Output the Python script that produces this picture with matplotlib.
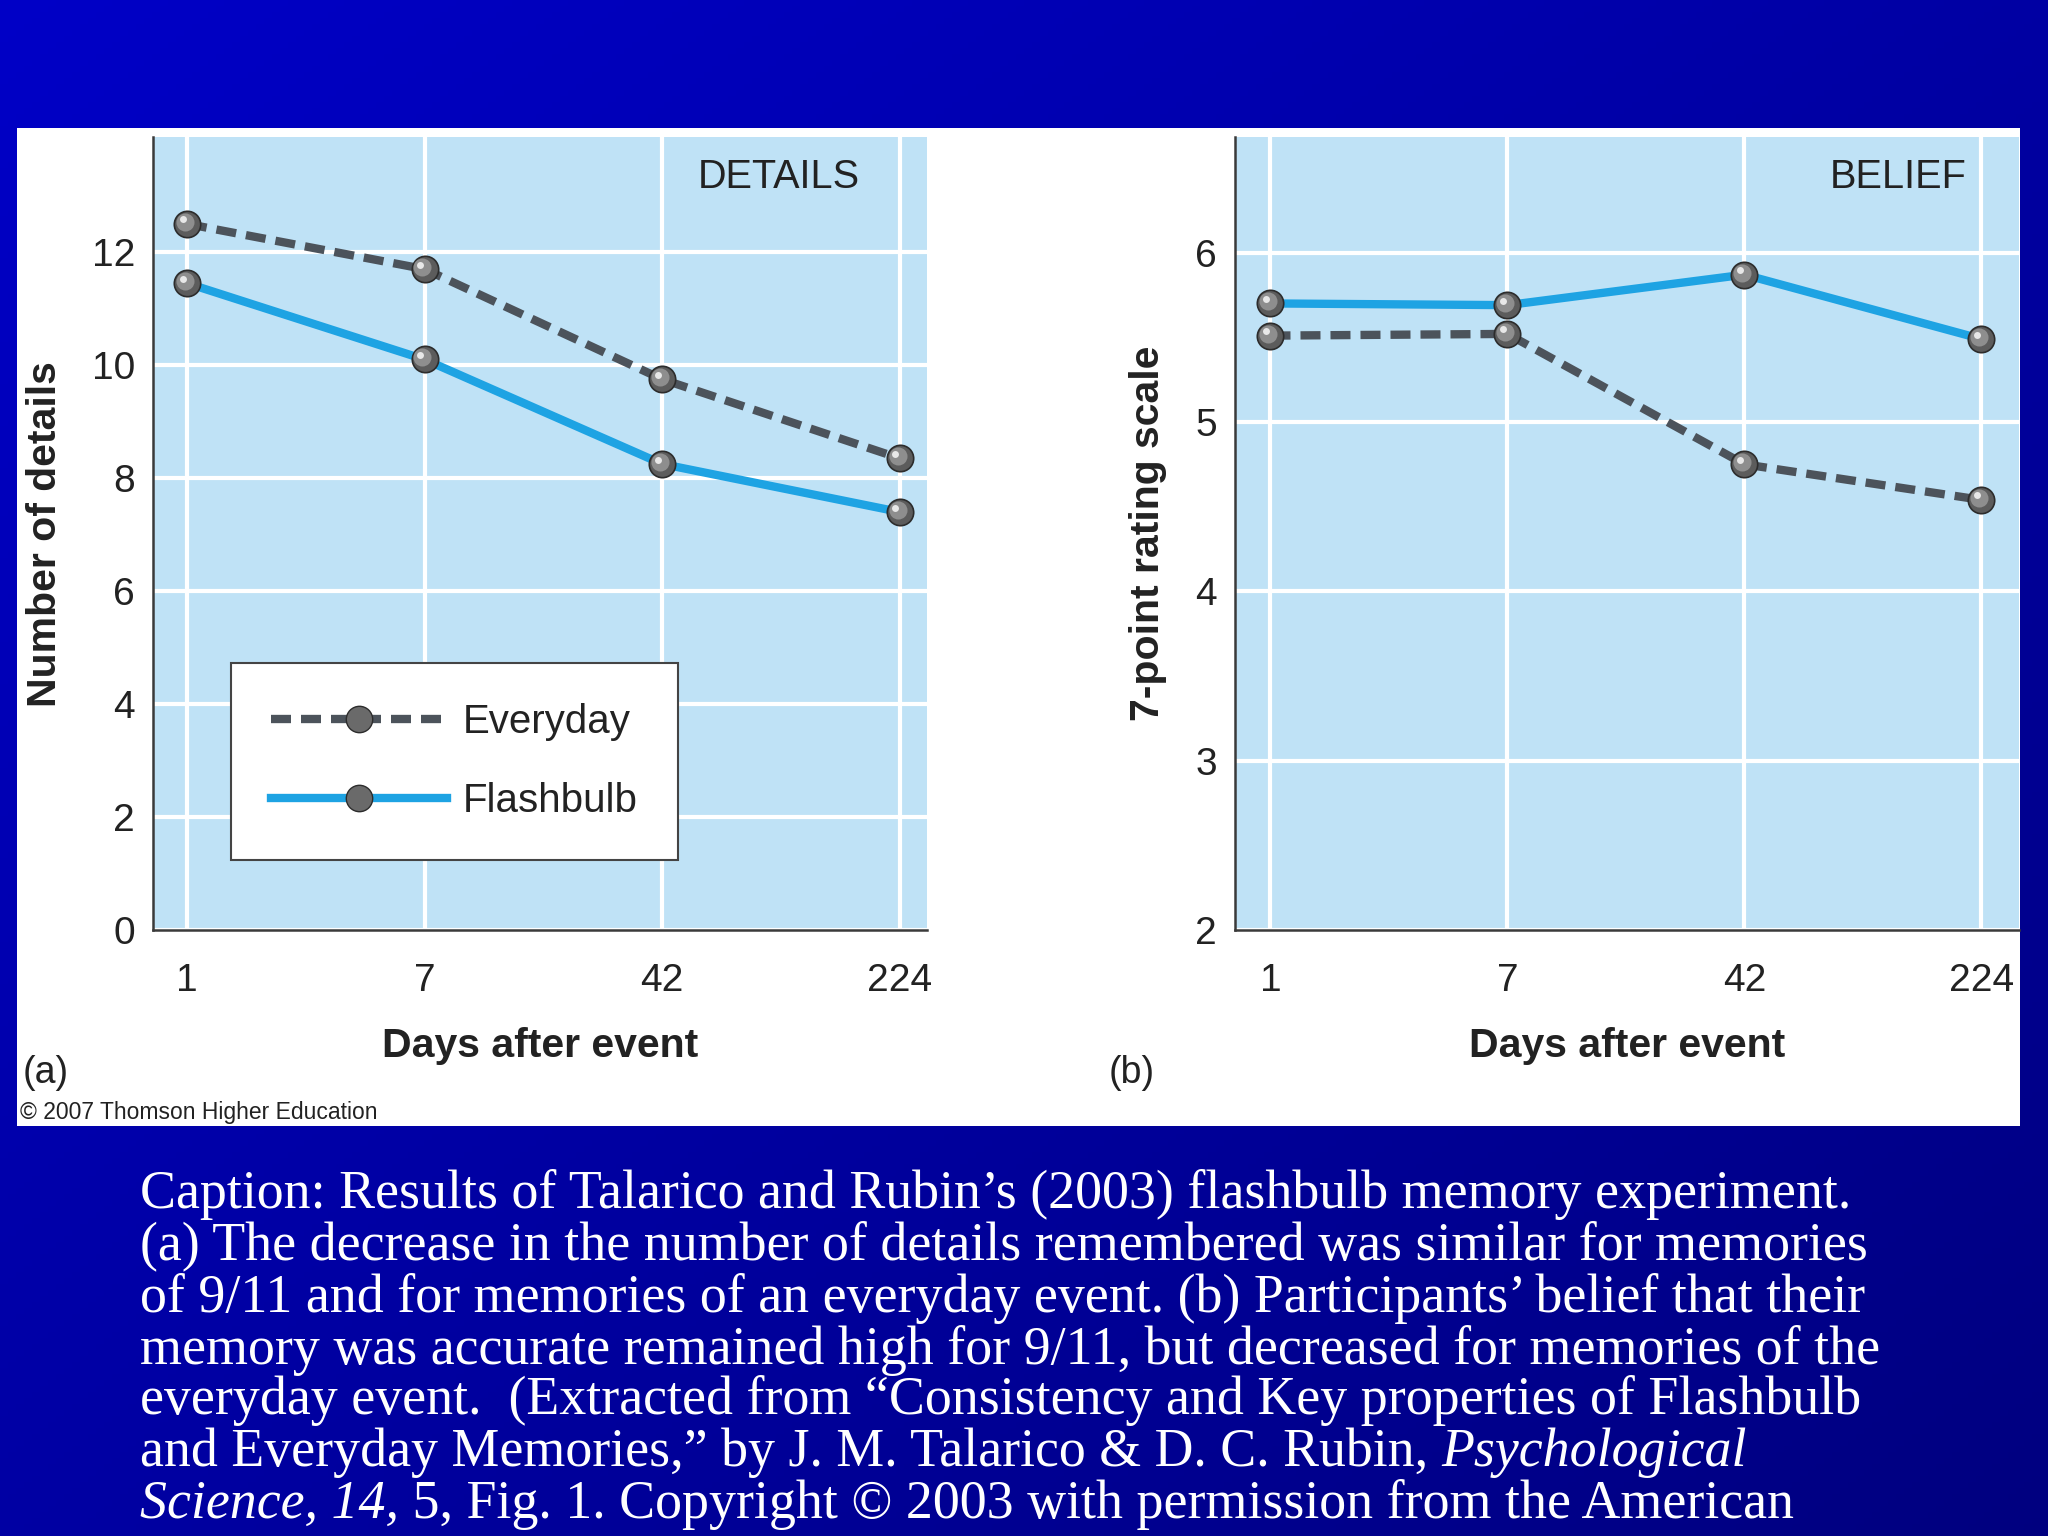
import matplotlib.pyplot as plt
import numpy as np
from matplotlib.patches import Rectangle
from matplotlib.lines import Line2D
import matplotlib.transforms as mtransforms

# data
days = ["1", "7", "42", "224"]
details_everyday = [12.5, 11.7, 9.75, 8.35]
details_flashbulb = [11.45, 10.1, 8.25, 7.4]
belief_everyday = [5.51, 5.52, 4.75, 4.54]
belief_flashbulb = [5.70, 5.69, 5.87, 5.49]
details_yticks = [0, 2, 4, 6, 8, 10, 12]
belief_yticks = [2, 3, 4, 5, 6]

caption_lines = [
    "Caption: Results of Talarico and Rubin\u2019s (2003) flashbulb memory experiment.",
    "(a) The decrease in the number of details remembered was similar for memories",
    "of 9/11 and for memories of an everyday event. (b) Participants\u2019 belief that their",
    "memory was accurate remained high for 9/11, but decreased for memories of the",
    "everyday event.  (Extracted from \u201cConsistency and Key properties of Flashbulb",
]
caption_line6 = ["and Everyday Memories,\u201d by J. M. Talarico & D. C. Rubin, ", "Psychological"]
caption_line7 = ["Science, 14,", " 5, Fig. 1. Copyright \u00a9 2003 with permission from the American"]

# colours
plot_bg = "#bfe2f6"
flash_col = "#1ea3e3"
every_col = "#4c535b"
text_col = "#222222"
lw = 6.0
dash = (2.4, 1.2)

plt.rcParams['font.family'] = ['Liberation Sans', 'DejaVu Sans']

fig = plt.figure(figsize=(20.48, 15.36), dpi=100)

# blue slide background gradient (bright top-left to navy bottom-right)
bg = fig.add_axes([0, 0, 1, 1], zorder=-10)
gx, gy = np.meshgrid(np.linspace(0, 1, 256), np.linspace(0, 1, 256))
t = 0.5 * gx + 0.5 * gy
c0 = np.array([0.0, 0.0, 0.78])
c1 = np.array([0.0, 0.0, 0.50])
img = c0[None, None, :] * (1 - t[..., None]) + c1[None, None, :] * t[..., None]
bg.imshow(img, aspect='auto', extent=[0, 1, 0, 1], origin='upper')
bg.set_axis_off()

# white figure panel
fig.patches.append(Rectangle((0.0083, 0.2669), 0.978, 0.650, transform=fig.transFigure,
                             facecolor="white", edgecolor="none", zorder=-5))


def style_axes(ax, ylim, yticks, xlim):
    ax.set_facecolor(plot_bg)
    ax.set_xlim(*xlim)
    ax.set_ylim(*ylim)
    ax.set_xticks(range(len(days)))
    ax.set_xticklabels(days)
    ax.set_yticks(yticks)
    ax.grid(True, color="white", linewidth=3)
    ax.set_axisbelow(True)
    for s in ["top", "right"]:
        ax.spines[s].set_visible(False)
    for s in ["left", "bottom"]:
        ax.spines[s].set_color("#3a3a3a")
        ax.spines[s].set_linewidth(1.8)
    ax.tick_params(length=0, labelsize=28, labelcolor=text_col)
    ax.tick_params(axis='x', pad=24)
    ax.tick_params(axis='y', pad=13)


def draw_series(ax, vals, color, ls, label):
    x = np.arange(len(vals))
    kw = dict(color=color, linewidth=lw, linestyle=ls, label=label,
              marker='o', markersize=19, markerfacecolor="#5c5c5c",
              markeredgecolor="#2c2c2c", markeredgewidth=1.2)
    if ls == '--':
        kw['dashes'] = dash
    ax.plot(x, vals, **kw, zorder=3)
    # shading layers to give a ball look
    off1 = mtransforms.ScaledTranslation(-1.5 / 72, 1.5 / 72, fig.dpi_scale_trans)
    ax.plot(x, vals, linestyle='none', marker='o', markersize=13,
            markerfacecolor="#8e8e8e", markeredgecolor="none",
            transform=ax.transData + off1, zorder=4)
    off2 = mtransforms.ScaledTranslation(-3.2 / 72, 3.2 / 72, fig.dpi_scale_trans)
    ax.plot(x, vals, linestyle='none', marker='o', markersize=5,
            markerfacecolor="#e8e8e8", markeredgecolor="none",
            transform=ax.transData + off2, zorder=5)


ax1 = fig.add_axes([0.0747, 0.3945, 0.378, 0.516])
style_axes(ax1, (0, 14.03), details_yticks, (-0.143, 3.115))
draw_series(ax1, details_everyday, every_col, '--', "Everyday")
draw_series(ax1, details_flashbulb, flash_col, '-', "Flashbulb")
ax1.set_ylabel("Number of details", fontsize=29.5, fontweight='bold', color=text_col, labelpad=20)
ax1.set_xlabel("Days after event", fontsize=29.5, fontweight='bold', color=text_col, labelpad=20)
ax1.text(0.808, 0.95, "DETAILS", transform=ax1.transAxes, fontsize=28.5, color=text_col,
         ha='center', va='center')

handles = [
    Line2D([], [], color=every_col, linewidth=lw, dashes=dash, marker='o', markersize=19,
           markerfacecolor="#6a6a6a", markeredgecolor="#2c2c2c"),
    Line2D([], [], color=flash_col, linewidth=lw, marker='o', markersize=19,
           markerfacecolor="#6a6a6a", markeredgecolor="#2c2c2c"),
]
leg = ax1.legend(handles, ["Everyday", "Flashbulb"], loc='lower left',
                 bbox_to_anchor=(0.101, 0.0885), fontsize=29, handlelength=4.35,
                 handletextpad=0.4, labelspacing=1.0, borderpad=1.0,
                 fancybox=False, framealpha=1, edgecolor="#444444", borderaxespad=0)
leg.get_frame().set_linewidth(1.5)
for txt in leg.get_texts():
    txt.set_color(text_col)

ax2 = fig.add_axes([0.603, 0.3945, 0.383, 0.516])
style_axes(ax2, (2, 6.68), belief_yticks, (-0.15, 3.16))
draw_series(ax2, belief_everyday, every_col, '--', "Everyday")
draw_series(ax2, belief_flashbulb, flash_col, '-', "Flashbulb")
ax2.set_ylabel("7-point rating scale", fontsize=29.5, fontweight='bold', color=text_col, labelpad=20)
ax2.set_xlabel("Days after event", fontsize=29.5, fontweight='bold', color=text_col, labelpad=20)
ax2.text(0.845, 0.95, "BELIEF", transform=ax2.transAxes, fontsize=28.5, color=text_col,
         ha='center', va='center')

# panel letters and credit
fig.text(46 / 2048, 1 - 1073 / 1536, "(a)", fontsize=27, color=text_col, ha='center', va='center')
fig.text(1132 / 2048, 1 - 1073 / 1536, "(b)", fontsize=27, color=text_col, ha='center', va='center')
fig.text(20 / 2048, 1 - 1113 / 1536, "\u00a9 2007 Thomson Higher Education", fontsize=16.5,
         color=text_col, ha='left', va='center')

# caption in white serif text
serif = ['Liberation Serif', 'DejaVu Serif']
cap_size = 38.8
x0 = 140 / 2048
line_y = [1194, 1246, 1298, 1350, 1401, 1453, 1505]
for i, line in enumerate(caption_lines):
    fig.text(x0, 1 - line_y[i] / 1536, line, fontsize=cap_size, color="white",
             family=serif, ha='left', va='center')

renderer = fig.canvas.get_renderer()


def mixed_line(parts, styles, y):
    x = x0
    for part, st in zip(parts, styles):
        t = fig.text(x, 1 - y / 1536, part, fontsize=cap_size, color="white",
                     family=serif, style=st, ha='left', va='center')
        bb = t.get_window_extent(renderer=renderer)
        x = bb.x1 / fig.bbox.width


mixed_line(caption_line6, ['normal', 'italic'], line_y[5])
mixed_line(caption_line7, ['italic', 'normal'], line_y[6])

fig.savefig("out.png", dpi=100)
